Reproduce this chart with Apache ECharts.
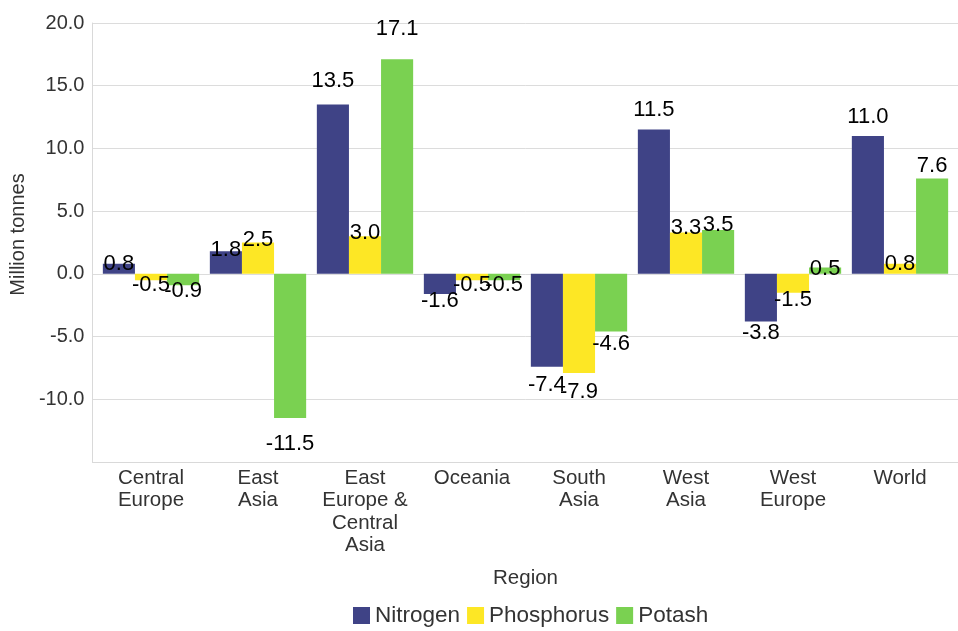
<!DOCTYPE html>
<html><head><meta charset="utf-8">
<script src="https://cdn.jsdelivr.net/npm/echarts@6/dist/echarts.min.js"></script>
<style>html,body{margin:0;padding:0;background:#fff}#c{width:958px;height:631px}</style>
</head><body><div id="c"></div>
<script>
var categories = ["Central\nEurope", "East\nAsia", "East\nEurope &\nCentral\nAsia", "Oceania", "South\nAsia", "West\nAsia", "West\nEurope", "World"];
var nitrogen = [0.8, 1.8, 13.5, -1.6, -7.4, 11.5, -3.8, 11.0];
var phosphorus = [-0.5, 2.5, 3.0, -0.5, -7.9, 3.3, -1.5, 0.8];
var potash = [-0.9, -11.5, 17.1, -0.5, -4.6, 3.5, 0.5, 7.6];
var seriesNames = ["Nitrogen", "Phosphorus", "Potash"];
var colors = ["#3f4386", "#fde725", "#7ad151"];
var FONT = "Liberation Sans, Arial, sans-serif";
var Y_MIN = -15, Y_MAX = 20, Y_STEP = 5;

function items(arr) {
  return arr.map(function (v) {
    return {
      value: v,
      label: {
        position: v >= 0 ? "top" : "bottom",
        distance: v >= 0 ? 1.9 * v - 13 : 1.9 * Math.abs(v) - 7
      }
    };
  });
}
function mk(name, arr, color) {
  return {
    name: name, type: "bar", data: items(arr),
    xAxisIndex: 1, yAxisIndex: 1,
    itemStyle: { color: color },
    barGap: "0%", barCategoryGap: "10%",
    label: {
      show: true, color: "#000", fontSize: 22, fontFamily: FONT,
      formatter: function (p) { return p.value.toFixed(1); }
    }
  };
}
var chart = echarts.init(document.getElementById("c"), null, { renderer: "canvas" });
chart.setOption({
  animation: false,
  textStyle: { fontFamily: FONT },
  grid: [
    { left: 88, right: 0, top: 23, bottom: 169, containLabel: false },
    { left: 97.5, right: 4.5, top: 23, bottom: 169, containLabel: false }
  ],
  legend: {
    top: 599, left: 348, itemWidth: 17, itemHeight: 17, itemGap: 7,
    icon: "rect",
    textStyle: { fontSize: 22.5, color: "#333", fontFamily: FONT },
    data: seriesNames
  },
  xAxis: [
    {
      gridIndex: 0, type: "category", data: categories,
      axisLine: { onZero: false, lineStyle: { color: "#d9d9d9" } },
      axisTick: { show: false }, axisLabel: { show: false }, splitLine: { show: false }
    },
    {
      gridIndex: 1, type: "category", data: categories,
      name: "Region", nameLocation: "middle", nameGap: 106,
      nameTextStyle: { fontSize: 20.5, color: "#333", fontFamily: FONT },
      axisLine: { show: false },
      axisTick: { show: false },
      axisLabel: { fontSize: 20.5, color: "#333", lineHeight: 22.5, margin: 5, interval: 0, fontFamily: FONT }
    }
  ],
  yAxis: [
    {
      gridIndex: 0, type: "value", min: Y_MIN, max: Y_MAX, interval: Y_STEP,
      name: "Million tonnes", nameLocation: "middle", nameGap: 51, nameRotate: 90,
      nameTextStyle: { fontSize: 20, color: "#333", fontFamily: FONT, padding: [0, 0, 0, 16] },
      axisLine: { show: true, lineStyle: { color: "#d9d9d9" } },
      axisTick: { show: false },
      axisLabel: {
        fontSize: 20, color: "#333", margin: 8, fontFamily: FONT,
        formatter: function (v) { return v <= Y_MIN ? "" : v.toFixed(1); }
      },
      splitLine: { lineStyle: { color: "#dcdcdc" } }
    },
    {
      gridIndex: 1, type: "value", min: Y_MIN, max: Y_MAX, interval: Y_STEP,
      show: false, splitLine: { show: false }
    }
  ],
  series: [
    mk(seriesNames[0], nitrogen, colors[0]),
    mk(seriesNames[1], phosphorus, colors[1]),
    mk(seriesNames[2], potash, colors[2])
  ]
});
</script></body></html>
